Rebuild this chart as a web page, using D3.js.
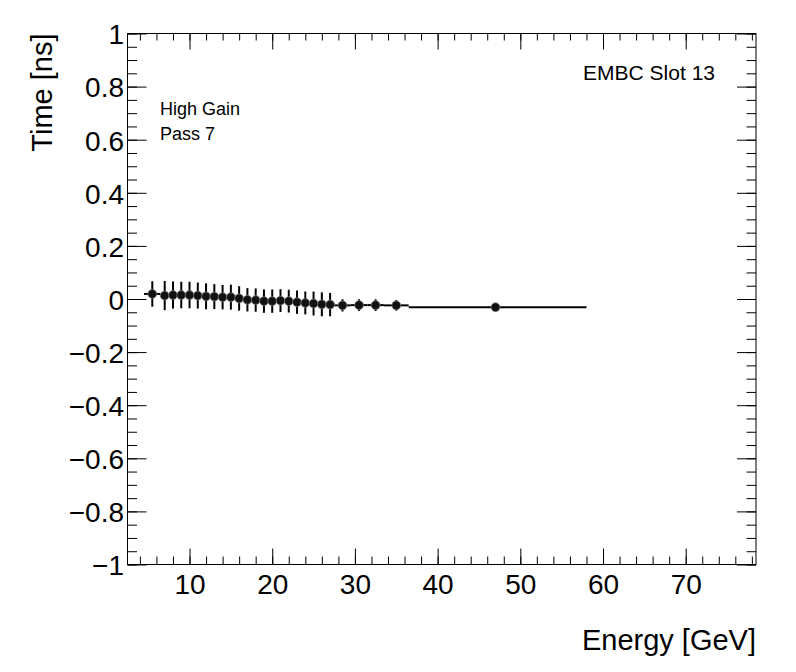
<!DOCTYPE html>
<html>
<head>
<meta charset="utf-8">
<script src="https://cdn.jsdelivr.net/npm/d3@7"></script>
<style>
  body { margin: 0; background: #fff; }
  svg { font-family: "Liberation Sans", Arial, Helvetica, sans-serif; }
</style>
</head>
<body>
<script>
// energy bins (GeV): centre, low edge, high edge
var energy  = [5.5, 7, 8, 9, 10, 11, 12, 13, 14, 15, 16, 17, 18, 19, 20, 21, 22, 23, 24, 25, 26, 27, 28.5, 30.5, 32.5, 35, 47];
var binLow  = [4.5, 6.5, 7.5, 8.5, 9.5, 10.5, 11.5, 12.5, 13.5, 14.5, 15.5, 16.5, 17.5, 18.5, 19.5, 20.5, 21.5, 22.5, 23.5, 24.5, 25.5, 26.5, 27.5, 29.5, 31.5, 33.5, 36.5];
var binHigh = [6.5, 7.5, 8.5, 9.5, 10.5, 11.5, 12.5, 13.5, 14.5, 15.5, 16.5, 17.5, 18.5, 19.5, 20.5, 21.5, 22.5, 23.5, 24.5, 25.5, 26.5, 27.5, 29.5, 31.5, 33.5, 36.5, 58];
// mean time (ns) and its error
var time    = [0.019, 0.013, 0.015, 0.015, 0.015, 0.013, 0.010, 0.009, 0.007, 0.007, 0.002, -0.003, -0.004, -0.008, -0.008, -0.006, -0.008, -0.012, -0.015, -0.017, -0.020, -0.021, -0.024, -0.023, -0.023, -0.024, -0.031];
var timeErr = [0.048, 0.055, 0.051, 0.050, 0.050, 0.049, 0.049, 0.047, 0.046, 0.047, 0.046, 0.044, 0.044, 0.044, 0.044, 0.043, 0.043, 0.044, 0.043, 0.045, 0.045, 0.044, 0.023, 0.022, 0.022, 0.020, 0.010];

var xMajor = [10, 20, 30, 40, 50, 60, 70];
var xMinor = d3.range(4, 79, 2);
var yMajor = [-1, -0.8, -0.6, -0.4, -0.2, 0, 0.2, 0.4, 0.6, 0.8, 1];
var yMinor = d3.range(-20, 21).map(function(i) { return i * 0.05; });

var svg = d3.select("body").append("svg").attr("width", 796).attr("height", 672);
svg.append("rect").attr("width", 796).attr("height", 672).attr("fill", "#fff");

var frameL = 127.5, frameR = 756, frameT = 33.5, frameB = 564.5;
var x = d3.scaleLinear().domain([2.5, 78.5]).range([frameL, frameR]);
var y = d3.scaleLinear().domain([-1, 1]).range([frameB, frameT]);

var fmtY = function(d) { return d3.format(".1~f")(d); };

// ticks pointing inward on all four sides, like ROOT
function axis(gen, tx, ty, vals, size, labels) {
  var g = svg.append("g").attr("transform", "translate(" + tx + "," + ty + ")")
    .call(gen.tickValues(vals).tickSize(size).tickSizeOuter(0));
  g.select(".domain").remove();
  g.selectAll("line").attr("stroke", "#000").attr("stroke-width", 1);
  if (!labels) g.selectAll("text").remove();
  return g;
}

axis(d3.axisBottom(x), 0, frameB, xMinor, -8, false);
axis(d3.axisTop(x), 0, frameT, xMinor, -7, false);
axis(d3.axisLeft(y), frameL, 0, yMinor, -9.5, false);
axis(d3.axisRight(y), frameR, 0, yMinor, -9.5, false);
axis(d3.axisTop(x), 0, frameT, xMajor, -16, false);
axis(d3.axisRight(y), frameR, 0, yMajor, -19, false);

var gx = axis(d3.axisBottom(x).tickFormat(d3.format("d")), 0, frameB, xMajor, -16, true);
gx.selectAll("text").attr("y", 29.5).attr("dy", null)
  .attr("font-size", 28).attr("fill", "#000").attr("font-family", null);

var gy = axis(d3.axisLeft(y).tickFormat(fmtY), frameL, 0, yMajor, -19, true);
gy.selectAll("text").attr("x", -3.5).attr("dy", "0.37em")
  .attr("font-size", 28).attr("fill", "#000").attr("font-family", null);

// frame
svg.append("rect").attr("x", frameL).attr("y", frameT)
  .attr("width", frameR - frameL).attr("height", frameB - frameT)
  .attr("fill", "none").attr("stroke", "#000").attr("stroke-width", 1);

// data
var idx = d3.range(energy.length);
var plot = svg.append("g");

plot.selectAll(".xerr").data(idx).enter().append("line")
  .attr("x1", function(i) { return x(binLow[i]); })
  .attr("x2", function(i) { return x(binHigh[i]); })
  .attr("y1", function(i) { return y(time[i]); })
  .attr("y2", function(i) { return y(time[i]); })
  .attr("stroke", "#000").attr("stroke-width", 2);

plot.selectAll(".yerr").data(idx).enter().append("line")
  .attr("x1", function(i) { return x(energy[i]); })
  .attr("x2", function(i) { return x(energy[i]); })
  .attr("y1", function(i) { return y(time[i] - timeErr[i]); })
  .attr("y2", function(i) { return y(time[i] + timeErr[i]); })
  .attr("stroke", "#000").attr("stroke-width", 2);

plot.selectAll("circle").data(idx).enter().append("circle")
  .attr("cx", function(i) { return x(energy[i]); })
  .attr("cy", function(i) { return y(time[i]); })
  .attr("r", 4.4)
  .attr("fill", "#111").attr("stroke", "#777").attr("stroke-width", 0.8);

// titles
svg.append("text").attr("x", frameR).attr("y", 650)
  .attr("text-anchor", "end").attr("font-size", 29).text("Energy [GeV]");

svg.append("text").attr("transform", "translate(51.5," + frameT + ") rotate(-90)")
  .attr("text-anchor", "end").attr("font-size", 29).text("Time [ns]");

svg.append("text").attr("x", 715).attr("y", 79.5)
  .attr("text-anchor", "end").attr("font-size", 21).text("EMBC Slot 13");

svg.append("text").attr("x", 160).attr("y", 115).attr("font-size", 18).text("High Gain");
svg.append("text").attr("x", 160).attr("y", 140).attr("font-size", 18).text("Pass 7");
</script>
</body>
</html>
